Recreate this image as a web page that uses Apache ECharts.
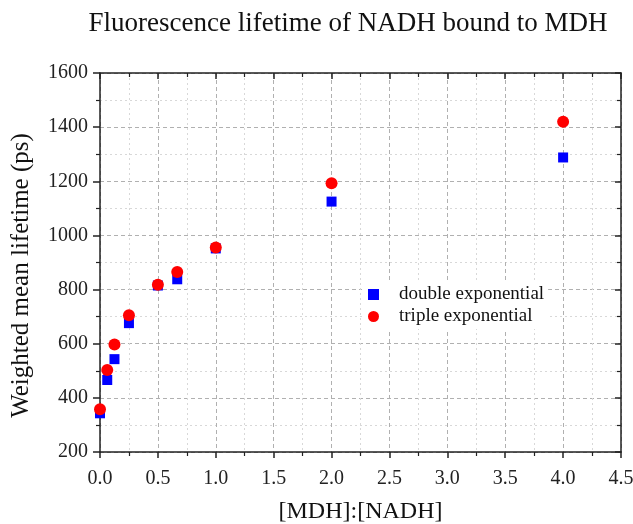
<!DOCTYPE html>
<html>
<head>
<meta charset="utf-8">
<script src="https://cdn.jsdelivr.net/npm/echarts@6/dist/echarts.min.js"></script>
<style>html,body{margin:0;padding:0;background:#fff}#c{width:633px;height:524px}</style>
</head>
<body>
<div id="c"></div>
<script>
const ratios = [0, 0.0625, 0.125, 0.25, 0.5, 0.667, 1, 2, 4];
const doubleExp = [343, 466, 543, 676, 815, 838, 952, 1125, 1288];
const tripleExp = [358, 503, 597, 705, 818, 865, 955, 1193, 1420];
const seriesNames = ['double exponential', 'triple exponential'];
const titleText = 'Fluorescence lifetime of NADH bound to MDH';
const xName = '[MDH]:[NADH]';
const yName = 'Weighted mean lifetime (ps)';

const FONT = '"Liberation Serif", "Times New Roman", serif';
const chart = echarts.init(document.getElementById('c'), null, {renderer: 'canvas'});
const majorGrid = {show: true, lineStyle: {color: '#b0b0b0', type: [4, 3], width: 1}};
const minorGrid = {show: true, lineStyle: {color: '#d8d8d8', type: [2, 3], width: 1}};
const axisLine = {show: true, onZero: false, lineStyle: {color: '#222', width: 1.5}};

chart.setOption({
  backgroundColor: '#fff',
  animation: false,
  graphic: [{
    type: 'text', x: 348, y: 24,
    style: {text: titleText, x: 0, y: 0, textAlign: 'center', textVerticalAlign: 'middle',
      font: '27px ' + FONT, fill: '#111'}
  }],
  grid: {left: 100, right: 12, top: 73, bottom: 72, containLabel: false, outerBoundsMode: 'none'},
  legend: {
    orient: 'vertical', left: 362, top: 282,
    backgroundColor: '#fff', padding: [3, 4, 3, 6],
    itemWidth: 11, itemHeight: 11, itemGap: 3,
    textStyle: {fontFamily: FONT, fontSize: 19, color: '#111', padding: [0, 0, 0, 15]},
    data: [{name: seriesNames[0], icon: 'rect'}, {name: seriesNames[1], icon: 'circle'}]
  },
  xAxis: [{
    type: 'value', min: 0, max: 4.5, interval: 0.5, position: 'bottom',
    name: xName, nameLocation: 'middle', nameGap: 48,
    nameTextStyle: {fontFamily: FONT, fontSize: 24, color: '#111'},
    axisLine: axisLine,
    axisTick: {show: true, inside: false, length: 6, lineStyle: {color: '#222', width: 1.5}},
    minorTick: {show: true, splitNumber: 2, length: 4, lineStyle: {color: '#222', width: 1.2}},
    axisLabel: {fontFamily: FONT, fontSize: 20, color: '#222', margin: 17, formatter: v => v.toFixed(1)},
    splitLine: majorGrid, minorSplitLine: minorGrid
  }, {
    type: 'value', min: 0, max: 4.5, interval: 0.5, position: 'top',
    axisLine: axisLine,
    axisTick: {show: true, inside: true, length: 6, lineStyle: {color: '#222', width: 1.5}},
    minorTick: {show: true, splitNumber: 2, length: 4, lineStyle: {color: '#222', width: 1.2}},
    axisLabel: {show: false}, splitLine: {show: false}
  }],
  yAxis: [{
    type: 'value', min: 200, max: 1600, interval: 200, position: 'left',
    name: yName, nameLocation: 'middle', nameGap: 66, nameRotate: 90,
    nameTextStyle: {fontFamily: FONT, fontSize: 25, color: '#111', padding: [0, 26, 0, 0]},
    axisLine: axisLine,
    axisTick: {show: true, inside: false, length: 7, lineStyle: {color: '#222', width: 1.5}},
    minorTick: {show: true, splitNumber: 2, length: 4, lineStyle: {color: '#222', width: 1.2}},
    axisLabel: {fontFamily: FONT, fontSize: 20, color: '#222', margin: 12, formatter: v => String(v)},
    splitLine: majorGrid, minorSplitLine: minorGrid
  }, {
    type: 'value', min: 200, max: 1600, interval: 200, position: 'right',
    axisLine: axisLine,
    axisTick: {show: true, inside: true, length: 6, lineStyle: {color: '#222', width: 1.5}},
    minorTick: {show: true, splitNumber: 2, length: 4, lineStyle: {color: '#222', width: 1.2}},
    axisLabel: {show: false}, splitLine: {show: false}
  }],
  series: [{
    name: seriesNames[0], type: 'scatter', symbol: 'rect', symbolSize: 10,
    itemStyle: {color: '#0000ff', opacity: 1},
    data: ratios.map((x, i) => [x, doubleExp[i]])
  }, {
    name: seriesNames[1], type: 'scatter', symbol: 'circle', symbolSize: 12,
    itemStyle: {color: '#ff0000', opacity: 1},
    data: ratios.map((x, i) => [x, tripleExp[i]])
  }]
});
</script>
</body>
</html>
